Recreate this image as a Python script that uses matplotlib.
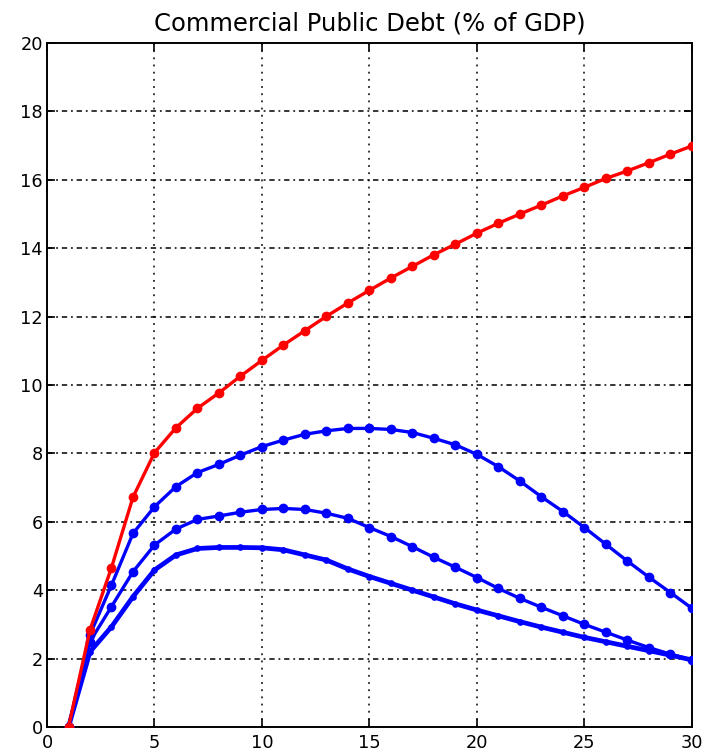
import matplotlib
matplotlib.use("Agg")
import matplotlib.pyplot as plt

plt.rcParams['font.family'] = ['DejaVu Sans']

years = list(range(1, 31))

debt_red = [0.0, 2.84, 4.66, 6.72, 8.02, 8.75, 9.32, 9.77, 10.26, 10.72,
            11.17, 11.59, 12.01, 12.40, 12.77, 13.13, 13.47, 13.81, 14.12, 14.44,
            14.73, 15.00, 15.26, 15.53, 15.78, 16.04, 16.26, 16.50, 16.75, 16.99]

debt_blue_high = [0.0, 2.70, 4.15, 5.66, 6.44, 7.03, 7.44, 7.68, 7.95, 8.20,
                  8.39, 8.56, 8.66, 8.73, 8.73, 8.70, 8.61, 8.44, 8.25, 7.97,
                  7.61, 7.19, 6.73, 6.30, 5.83, 5.34, 4.85, 4.38, 3.93, 3.47]

debt_blue_mid = [0.0, 2.50, 3.52, 4.54, 5.32, 5.79, 6.07, 6.17, 6.28, 6.36,
                 6.39, 6.36, 6.25, 6.10, 5.83, 5.57, 5.27, 4.96, 4.67, 4.37,
                 4.05, 3.76, 3.50, 3.25, 3.00, 2.77, 2.54, 2.32, 2.13, 1.96]

debt_blue_low = [0.0, 2.20, 2.93, 3.81, 4.59, 5.03, 5.22, 5.25, 5.25, 5.24,
                 5.18, 5.03, 4.88, 4.62, 4.40, 4.20, 4.00, 3.80, 3.60, 3.42,
                 3.25, 3.08, 2.92, 2.77, 2.62, 2.49, 2.36, 2.23, 2.10, 1.96]

x_ticks = [0, 5, 10, 15, 20, 25, 30]
y_ticks = [0, 2, 4, 6, 8, 10, 12, 14, 16, 18, 20]

fig = plt.figure(figsize=(7.10, 7.54), dpi=100)
ax = fig.add_axes([0.0662, 0.0358, 0.9084, 0.9072])

ax.plot(years, debt_blue_low, color='#0000ff', lw=3.4, marker='o', ms=3.8,
        solid_capstyle='round', zorder=3)
ax.plot(years, debt_blue_mid, color='#0000ff', lw=2.4, marker='o', ms=6, zorder=3)
ax.plot(years, debt_blue_high, color='#0000ff', lw=2.4, marker='o', ms=6, zorder=3)
ax.plot(years, debt_red, color='#ff0000', lw=2.4, marker='o', ms=6, zorder=4)

ax.set_xlim(0, 30)
ax.set_ylim(0, 20)
ax.set_xticks(x_ticks)
ax.set_yticks(y_ticks)

for v in x_ticks[1:-1]:
    ax.axvline(v, color='black', lw=1.1, linestyle=(0, (1.2, 3.5)), zorder=1)
for v in y_ticks[1:-1]:
    ax.axhline(v, color='black', lw=1.1, linestyle=(0, (3.5, 2.5, 1.2, 2.5)), zorder=1)

ax.tick_params(direction='in', length=6, width=1.2, top=True, right=True,
               labelsize=12.8, colors='black')
ax.tick_params(axis='x', pad=5)
ax.tick_params(axis='y', pad=3)
for s in ax.spines.values():
    s.set_linewidth(1.4)

ax.set_title('Commercial Public Debt (% of GDP)', fontsize=17.5, pad=9)

fig.savefig('out.png', dpi=100)
